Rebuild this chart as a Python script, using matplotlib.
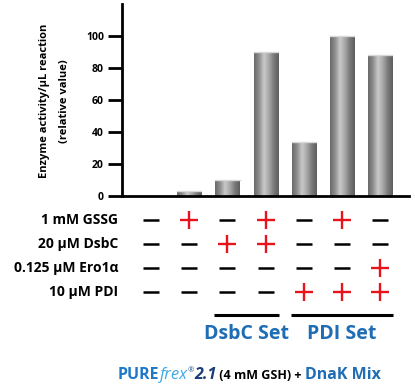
import numpy as np
import matplotlib
matplotlib.use('Agg')
import matplotlib.pyplot as plt
import matplotlib.transforms as mtransforms
from matplotlib.colors import LinearSegmentedColormap

# ── Data ──────────────────────────────────────────────────────────────────────
lanes      = [0, 1, 2, 3, 4, 5, 6]
activity   = [0, 3, 10, 90, 33.5, 100, 88]
row_labels = ['1 mM GSSG', '20 µM DsbC', '0.125 µM Ero1α', '10 µM PDI']
gssg       = [0, 1, 0, 1, 0, 1, 0]
dsbc       = [0, 0, 1, 1, 0, 0, 0]
ero1a      = [0, 0, 0, 0, 0, 0, 1]
pdi        = [0, 0, 0, 0, 1, 1, 1]
set_names  = ['DsbC Set', 'PDI Set']
set_lanes  = [[2, 3], [4, 5, 6]]
yticks     = [0, 20, 40, 60, 80, 100]

# ── Style ─────────────────────────────────────────────────────────────────────
FONT  = 'Open Sans'
RED   = '#e8141c'
BLUE  = '#1f6db4'
W, H  = 415, 388
plt.rcParams['font.family'] = [FONT, 'DejaVu Sans']

fig = plt.figure(figsize=(W / 100, H / 100), dpi=100)
ax = fig.add_axes([122 / W, (H - 196) / H, (409 - 122) / W, 192 / H])

# cylinder-like shading for the bars
shade = LinearSegmentedColormap.from_list(
    'cyl', ['#6a6a6a', '#8e8e8e', '#c9c9c9', '#a8a8a8', '#7a7a7a', '#5e5e5e'])
grad = np.linspace(0, 1, 64).reshape(1, -1)
bar_w = 0.63
for x, v in zip(lanes, activity):
    if v <= 0:
        continue
    ax.imshow(grad, cmap=shade, aspect='auto', interpolation='bilinear',
              extent=(x - bar_w / 2, x + bar_w / 2, 0, v), zorder=2)
    ax.plot([x - bar_w / 2, x + bar_w / 2], [v, v], color='#d8d8d8', lw=1, zorder=3)
ax.set_xlim(-0.76, 6.75)
ax.set_ylim(0, 120)

for side in ['top', 'right']:
    ax.spines[side].set_visible(False)
for side in ['left', 'bottom']:
    ax.spines[side].set_linewidth(2)
ax.set_xticks([])
ax.set_yticks(yticks)
ax.tick_params(axis='y', length=10, width=2, pad=3, labelsize=7.5)
for t in ax.get_yticklabels():
    t.set_fontweight('bold')

fig.text(45 / W, (H - 101) / H, 'Enzyme activity/µL reaction', rotation=90,
         ha='center', va='center', fontsize=8, fontweight='bold')
fig.text(64 / W, (H - 101) / H, '(relative value)', rotation=90,
         ha='center', va='center', fontsize=8, fontweight='bold')

# ── Condition table ───────────────────────────────────────────────────────────
trans = mtransforms.blended_transform_factory(ax.transData, fig.transFigure)
row_y = [220, 244, 268, 292]
for label, flags, y in zip(row_labels, [gssg, dsbc, ero1a, pdi], row_y):
    yf = (H - y) / H
    fig.text(118 / W, yf, label, ha='right', va='center',
             fontsize=10, fontweight='bold')
    for x, f in zip(lanes, flags):
        if f:
            ax.plot(x, yf, marker='+', ms=12.5, mew=1.7, color=RED,
                    transform=trans, clip_on=False)
        else:
            ax.plot(x, yf, marker='_', ms=12, mew=1.8, color='black',
                    transform=trans, clip_on=False)

# set brackets
for name, ln in zip(set_names, set_lanes):
    ax.plot([ln[0] - 0.34, ln[-1] + 0.34], [(H - 315) / H] * 2, color='black',
            lw=2.2, transform=trans, clip_on=False, solid_capstyle='butt')
    ax.text(np.mean([ln[0], ln[-1]]), (H - 334) / H, name, transform=trans,
            ha='center', va='center', fontsize=14, fontweight='bold', color=BLUE)

# ── Bottom caption ────────────────────────────────────────────────────────────
pieces = [
    ('PURE', dict(color='#1e78c8', fontweight='bold', fontsize=11.5)),
    ('frex', dict(color='#3fa9e6', fontstyle='italic', fontsize=12)),
    ('®', dict(color='#1e4f8c', fontsize=5.5, va='bottom')),
    ('2.1', dict(color='#1a3c78', fontweight='bold', fontstyle='italic', fontsize=11.5)),
    (' (4 mM GSH) + ', dict(color='black', fontweight='bold', fontsize=9)),
    ('DnaK Mix', dict(color=BLUE, fontweight='bold', fontsize=11.5)),
]
fig.canvas.draw()
renderer = fig.canvas.get_renderer()
xpix = 118
ybase = H - 379
for txt, kw in pieces:
    kw = dict(kw)
    va = kw.pop('va', 'baseline')
    y = ybase + (7 if va == 'bottom' else 0)
    t = fig.text(xpix / W, y / H, txt, ha='left', va='baseline', **kw)
    bb = t.get_window_extent(renderer)
    xpix += bb.width

fig.savefig('out.png', dpi=100)
